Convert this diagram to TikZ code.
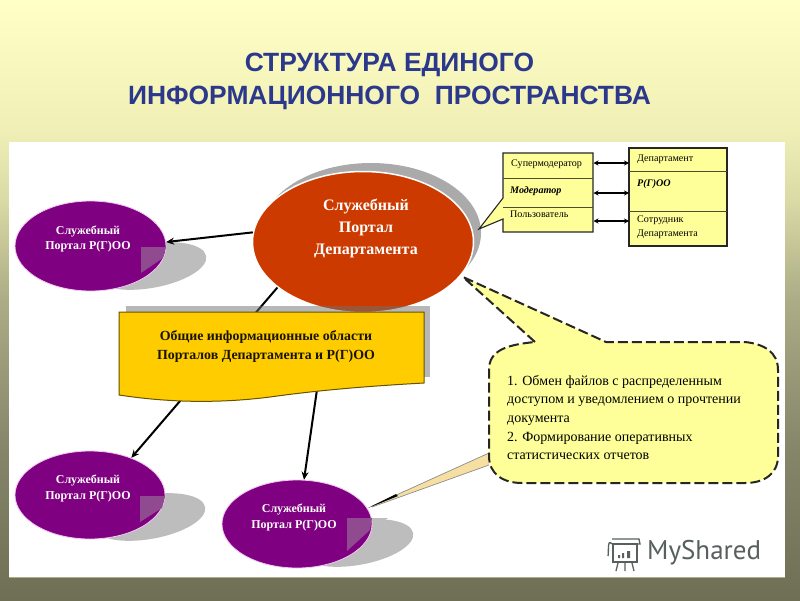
\documentclass[tikz,border=0pt]{standalone}
\usepackage{fontspec}
\setmainfont{Liberation Serif}
\newfontfamily\titlefont{Liberation Sans}
\newfontfamily\markfont{PT Sans}
\usetikzlibrary{shapes.geometric,arrows.meta,calc}
\definecolor{bga}{HTML}{FFFFC6}
\definecolor{bgb}{HTML}{EFEFB6}
\definecolor{bgc}{HTML}{DADAA6}
\definecolor{bgd}{HTML}{ACAC86}
\definecolor{bge}{HTML}{85856A}
\definecolor{bgf}{HTML}{6F6F55}
\pgfdeclareverticalshading{bgsh}{100bp}{color(0bp)=(bgf); color(25bp)=(bgf); color(37.5bp)=(bge); color(50bp)=(bgd); color(58.33bp)=(bgc); color(64.17bp)=(bgb); color(75bp)=(bga); color(100bp)=(bga)}
\definecolor{titleblue}{HTML}{2B388C}
\definecolor{redport}{HTML}{CC3A00}
\definecolor{purp}{HTML}{7F0080}
\definecolor{purprim}{HTML}{F2C8F2}
\definecolor{foldc}{HTML}{8F4A90}
\definecolor{shadowc}{HTML}{BDBDBD}
\definecolor{boxy}{HTML}{FFCC00}
\definecolor{celly}{HTML}{FFFF99}
\definecolor{tan1}{HTML}{F6DFA0}
\definecolor{markc}{HTML}{55605F}
\tikzset{
  x=1pt,y=-1pt,
  portal/.style={ellipse,fill=purp,draw=purprim,line width=0.8pt,inner sep=0pt,minimum width=150pt,minimum height=88pt},
  portaltext/.style={inner sep=0pt,text=white,align=center,font=\fontsize{12}{15.5}\selectfont\bfseries},
  pshadow/.style={ellipse,fill=shadowc,inner sep=0pt,minimum width=114pt,minimum height=44pt,rotate=10},
  fold/.style={fill=foldc},
  wedge/.style={fill=shadowc},
  conn/.style={draw=black,line width=2pt,-{Stealth[length=8pt,width=7pt]}},
  biarrow/.style={draw=black,line width=1.4pt,{Stealth[length=5pt,width=5pt]}-{Stealth[length=5pt,width=5pt]}},
  cell/.style={draw=none,anchor=north west,inner sep=0pt,align=left,font=\fontsize{10.1}{14}\selectfont},
  tablebox/.style={fill=celly,draw=black!85,line width=1.1pt},
  divider/.style={draw=black!70!celly,line width=0.8pt},
  ctext/.style={anchor=north west,inner sep=0pt,align=left,font=\fontsize{14}{18.6}\selectfont},
}
\begin{document}
\begin{tikzpicture}
\useasboundingbox (0,0) rectangle (800,600);
% background
\shade[shading=bgsh] (0,0) rectangle (800,600);
\fill[white] (9,142) rectangle (785,577);
\draw[bgd,line width=0.8pt] (9,577) -- (785,577);
% title
\node[font=\titlefont\fontsize{26.4}{33}\selectfont\bfseries,text=titleblue,align=center,inner sep=0pt] (title) at (389.5,81) {СТРУКТУРА ЕДИНОГО\\ИНФОРМАЦИОННОГО\ \ ПРОСТРАНСТВА};
% shadows
\node[pshadow] (s1) at (150,266) {};
\node[pshadow] (s2) at (149,517) {};
\node[pshadow] (s3) at (357,543) {};
\fill[wedge] (155,496) -- (179,496) -- (160,512) -- cycle;
\fill[wedge] (362,518) -- (388,518) -- (370,530) -- cycle;
\fill[wedge] (155,246) -- (172,246) -- (160,258) -- cycle;
\node[ellipse,fill=shadowc!90!black,inner sep=0pt,minimum width=220pt,minimum height=140pt] (mainshadow) at (371,233) {};
% portals
\node[portal,minimum width=151pt,minimum height=90pt] (p1) at (90.5,246) {};
\node[portal] (p2) at (90,495) {};
\node[portal] (p3) at (297,524) {};
\fill[fold] (141,247) -- (166,247) -- (163,258) -- (141,273) -- cycle;
\fill[fold] (140,496) -- (165,496) -- (162,508) -- (140,522) -- cycle;
\fill[fold] (347,518) -- (372,518) -- (370,530) -- (347,551) -- cycle;
\node[portaltext] (p1t) at (88,239) {Служебный\\Портал Р(Г)ОО};
\node[portaltext] (p2t) at (88,488.5) {Служебный\\Портал Р(Г)ОО};
\node[portaltext] (p3t) at (294,517.5) {Служебный\\Портал Р(Г)ОО};
% main portal
\node[ellipse,fill=redport,draw=white,line width=1.5pt,inner sep=0pt,minimum width=221pt,minimum height=141pt] (main) at (363,242) {};
\node[inner sep=0pt,text=white,align=center,font=\fontsize{16}{22}\selectfont\bfseries] (maint) at (366,228) {Служебный\\Портал\\Департамента};
% connectors
\draw[conn] (main.175) -- (p1.3);
\draw[conn] (main.208.7) -- (p2.42);
\draw[conn,shorten <=8pt] (main.243) -- (p3.81);
% shared areas box
\fill[black!56,opacity=.5] (126,306) rectangle (430,377);
\path[fill=boxy,draw=black!60!boxy,line width=1pt] (119,312) -- (424,312) -- (424,383)
  .. controls (370,386) and (320,390) .. (270,397)
  .. controls (215,404) and (165,402) .. (119,395) -- cycle;
\node[inner sep=0pt,align=center,font=\fontsize{13.9}{19}\selectfont\bfseries,text=black!90!boxy] (shared) at (266,347) {Общие информационные области\\Порталов Департамента и Р(Г)ОО};
% table left with pointer
\path[tablebox] (503,153) -- (593,153) -- (593,232) -- (503,232) -- (503,219) -- (479,229) -- (503,198) -- cycle;
\draw[divider] (503,178) -- (593,178);
\draw[divider] (503,207) -- (593,207);
\node[cell] (tsup) at (511,160) {Супермодератор};
\node[cell] (tmod) at (510,186) {\textit{\textbf{Модератор}}};
\node[cell] (tuser) at (510,211) {Пользователь};
% table right
\path[tablebox] (629,148) rectangle (727,246);
\draw[divider] (629,171) -- (727,171);
\draw[divider] (629,211) -- (727,211);
\node[cell] (tdep) at (637,155) {Департамент};
\node[cell] (trgoo) at (637,179) {\textit{\textbf{Р(Г)ОО}}};
\node[cell] (templ) at (637,216) {Сотрудник\\Департамента};
% double arrows
\coordinate (al1) at (593.5,163); \coordinate (ar1) at (629,163);
\coordinate (al2) at (593.5,193); \coordinate (ar2) at (629,193);
\coordinate (al3) at (593.5,221); \coordinate (ar3) at (629,221);
\draw[biarrow] (al1) -- (ar1);
\draw[biarrow] (al2) -- (ar2);
\draw[biarrow] (al3) -- (ar3);
% tan pointer
\fill[tan1] (368,508) -- (489,453) -- (489,465) -- cycle;
\draw[black!45,line width=0.7pt] (372,506) -- (489,453);
\draw[black!45,line width=0.7pt] (372,507) -- (489,465);
\fill[black] (368,508) -- (396,494) -- (398,496) -- cycle;
% dashed callout
\path[fill=celly,draw=black!85,line width=2pt,dash pattern=on 10pt off 4pt]
  (535,342) -- (463,277) -- (606,342) -- (745,342)
  .. controls (764,344) and (778,352) .. (778,370) -- (778,456)
  .. controls (778,474) and (764,483) .. (745,483) -- (522,483)
  .. controls (503,483) and (489,474) .. (489,456) -- (489,370)
  .. controls (489,352) and (503,345) .. (535,342) -- cycle;
\node[ctext] (calltext) at (507,375) {1. Обмен файлов с распределенным\\доступом и уведомлением о прочтении\\документа\\2. Формирование оперативных\\статистических отчетов};
% watermark
\node[anchor=west,inner sep=0pt,text=markc,font=\markfont\fontsize{27}{30}\selectfont] (mark) at (647,553) {MyShared};
\begin{scope}[draw=markc,line width=1.3pt]
  \draw (613,544) rectangle (637,562);
  \draw (612,544) .. controls (607,538) and (609,552) .. (608,556);
  \draw (612,539) -- (639,539) -- (640,544) -- (612,544);
  \draw (618,563) -- (616,571) (625,563) -- (625,571) (632,563) -- (634,571);
  \fill[markc] (618,555) rectangle (620,558) (622,553) rectangle (624,558) (627,551) rectangle (630,558);
\end{scope}
\end{tikzpicture}
\end{document}
